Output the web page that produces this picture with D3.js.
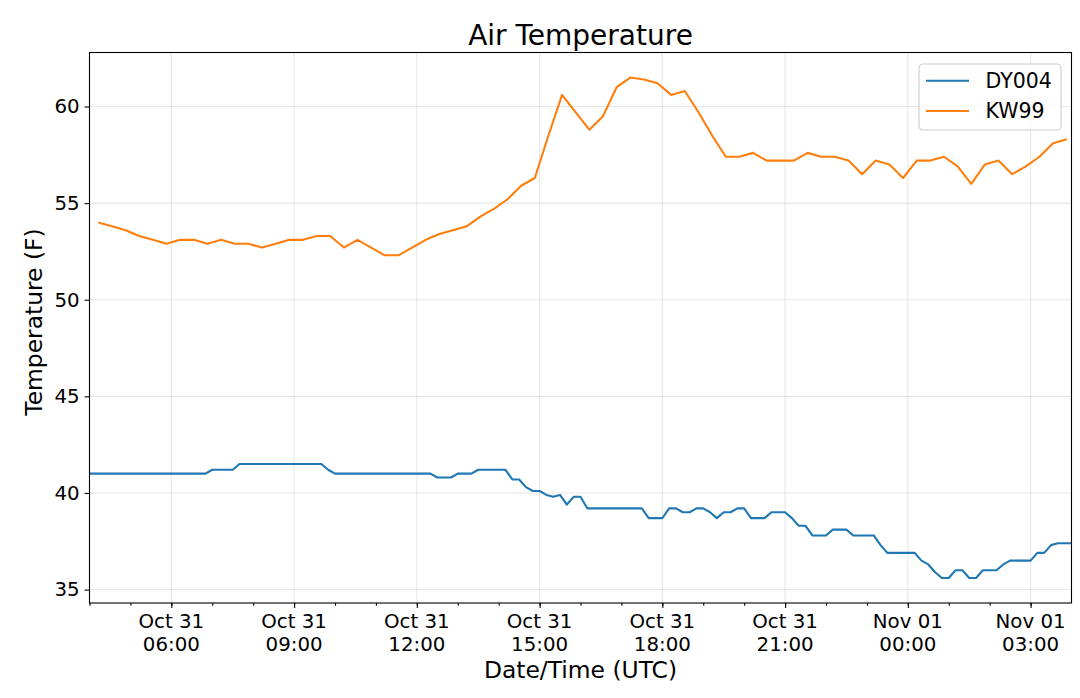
<!DOCTYPE html>
<html>
<head>
<meta charset="utf-8">
<script src="https://cdn.jsdelivr.net/npm/d3@7"></script>
<style>
body { margin: 0; background: #fff; }
text { font-family: "DejaVu Sans", sans-serif; fill: #000; }
</style>
</head>
<body>
<div id="chart"></div>
<script>
var seriesNames = ["DY004", "KW99"];
var seriesColors = ["#1f77b4", "#ff7f0e"];

// DY004: 10 minute readings
var dy004Start = "2019-10-31T04:00:00Z", dy004StepMin = 10;
var dy004Temp = [
    41.0, 41.0, 41.0, 41.0, 41.0, 41.0, 41.0, 41.0, 41.0, 41.0,
    41.0, 41.0, 41.0, 41.0, 41.0, 41.0, 41.0, 41.0, 41.2, 41.2,
    41.2, 41.2, 41.5, 41.5, 41.5, 41.5, 41.5, 41.5, 41.5, 41.5,
    41.5, 41.5, 41.5, 41.5, 41.5, 41.2, 41.0, 41.0, 41.0, 41.0,
    41.0, 41.0, 41.0, 41.0, 41.0, 41.0, 41.0, 41.0, 41.0, 41.0,
    41.0, 40.8, 40.8, 40.8, 41.0, 41.0, 41.0, 41.2, 41.2, 41.2,
    41.2, 41.2, 40.7, 40.7, 40.3, 40.1, 40.1, 39.9, 39.8, 39.9,
    39.4, 39.8, 39.8, 39.2, 39.2, 39.2, 39.2, 39.2, 39.2, 39.2,
    39.2, 39.2, 38.7, 38.7, 38.7, 39.2, 39.2, 39.0, 39.0, 39.2,
    39.2, 39.0, 38.7, 39.0, 39.0, 39.2, 39.2, 38.7, 38.7, 38.7,
    39.0, 39.0, 39.0, 38.7, 38.3, 38.3, 37.8, 37.8, 37.8, 38.1,
    38.1, 38.1, 37.8, 37.8, 37.8, 37.8, 37.3, 36.9, 36.9, 36.9,
    36.9, 36.9, 36.5, 36.3, 35.9, 35.6, 35.6, 36.0, 36.0, 35.6,
    35.6, 36.0, 36.0, 36.0, 36.3, 36.5, 36.5, 36.5, 36.5, 36.9,
    36.9, 37.3, 37.4, 37.4, 37.4
];

// KW99: 20 minute readings
var kw99Start = "2019-10-31T04:13:00Z", kw99StepMin = 20;
var kw99Temp = [
    54.0, 53.8, 53.6, 53.3, 53.1, 52.9, 53.1, 53.1, 52.9, 53.1,
    52.9, 52.9, 52.7, 52.9, 53.1, 53.1, 53.3, 53.3, 52.7, 53.1,
    52.7, 52.3, 52.3, 52.7, 53.1, 53.4, 53.6, 53.8, 54.3, 54.7,
    55.2, 55.9, 56.3, 58.5, 60.6, 59.7, 58.8, 59.5, 61.0, 61.5,
    61.4, 61.2, 60.6, 60.8, 59.7, 58.5, 57.4, 57.4, 57.6, 57.2,
    57.2, 57.2, 57.6, 57.4, 57.4, 57.2, 56.5, 57.2, 57.0, 56.3,
    57.2, 57.2, 57.4, 56.9, 56.0, 57.0, 57.2, 56.5, 56.9, 57.4,
    58.1, 58.3
];

var xTicks = ["2019-10-31T06:00:00Z", "2019-10-31T09:00:00Z", "2019-10-31T12:00:00Z",
              "2019-10-31T15:00:00Z", "2019-10-31T18:00:00Z", "2019-10-31T21:00:00Z",
              "2019-11-01T00:00:00Z", "2019-11-01T03:00:00Z"];
var yTicks = [35, 40, 45, 50, 55, 60];

function toSeries(start, stepMin, values) {
    var t0 = new Date(start);
    return values.map(function(v, i) {
        return {time: d3.utcMinute.offset(t0, i * stepMin), temp: v};
    });
}

var series = [
    {name: seriesNames[0], color: seriesColors[0], values: toSeries(dy004Start, dy004StepMin, dy004Temp)},
    {name: seriesNames[1], color: seriesColors[1], values: toSeries(kw99Start, kw99StepMin, kw99Temp)}
];

var margin = {top: 52.5, right: 8.5, bottom: 95, left: 89.5},
    width = 1080 - margin.left - margin.right,
    height = 698 - margin.top - margin.bottom;

var svg = d3.select("#chart").append("svg")
    .attr("width", 1080)
    .attr("height", 698);

var g = svg.append("g")
    .attr("transform", "translate(" + margin.left + "," + margin.top + ")");

// x spans the DY004 record, y gets matplotlib's 5% padding
var x = d3.scaleUtc()
    .domain(d3.extent(series[0].values, d => d.time))
    .range([0, width]);

var allTemps = dy004Temp.concat(kw99Temp);
var lo = d3.min(allTemps), hi = d3.max(allTemps), pad = (hi - lo) * 0.05;
var y = d3.scaleLinear()
    .domain([lo - pad, hi + pad])
    .range([height, 0]);

var tickDates = xTicks.map(d => new Date(d));

// grid
g.append("g").selectAll("line")
    .data(tickDates)
    .enter().append("line")
    .attr("x1", d => x(d)).attr("x2", d => x(d))
    .attr("y1", 0).attr("y2", height)
    .attr("stroke", "#b0b0b0").attr("stroke-opacity", 0.3).attr("stroke-width", 1.1);

g.append("g").selectAll("line")
    .data(yTicks)
    .enter().append("line")
    .attr("x1", 0).attr("x2", width)
    .attr("y1", d => y(d)).attr("y2", d => y(d))
    .attr("stroke", "#b0b0b0").attr("stroke-opacity", 0.3).attr("stroke-width", 1.1);

// lines
var line = d3.line()
    .x(d => x(d.time))
    .y(d => y(d.temp));

g.selectAll(".series")
    .data(series)
    .enter().append("path")
    .attr("class", "series")
    .attr("d", d => line(d.values))
    .attr("fill", "none")
    .attr("stroke", d => d.color)
    .attr("stroke-width", 2.1)
    .attr("stroke-linejoin", "round");

// axes
var minorAxis = d3.axisBottom(x)
    .tickValues(d3.utcHour.range(x.domain()[0], x.domain()[1]))
    .tickSize(2.8).tickFormat("");
var xAxis = d3.axisBottom(x)
    .tickValues(tickDates)
    .tickSize(4.9).tickFormat("");
var yAxis = d3.axisLeft(y)
    .tickValues(yTicks)
    .tickSize(4.9).tickPadding(4.9)
    .tickFormat(d3.format("d"));

g.append("g").attr("transform", "translate(0," + height + ")").call(minorAxis);
g.append("g").attr("transform", "translate(0," + height + ")").call(xAxis);
g.append("g").call(yAxis);

g.selectAll(".domain").remove();
g.selectAll(".tick line").attr("stroke", "#000").attr("stroke-width", 1.1);
g.selectAll(".tick text")
    .style("font-family", "DejaVu Sans")
    .style("font-size", "19.8px")
    .attr("fill", "#000");

// two-line date labels
var fmtDay = d3.utcFormat("%b %d"), fmtHour = d3.utcFormat("%H:%M");
var xLabels = g.append("g").selectAll("text")
    .data(tickDates)
    .enter().append("text")
    .attr("text-anchor", "middle")
    .style("font-size", "19.8px")
    .attr("transform", d => "translate(" + x(d) + "," + (height + 24.5) + ")");
xLabels.append("tspan").attr("x", 0).attr("y", 0).text(d => fmtDay(d));
xLabels.append("tspan").attr("x", 0).attr("y", 23.8).text(d => fmtHour(d));

// frame
g.append("rect")
    .attr("width", width).attr("height", height)
    .attr("fill", "none").attr("stroke", "#000").attr("stroke-width", 1.1);

// titles
svg.append("text")
    .attr("x", margin.left + width / 2).attr("y", 45)
    .attr("text-anchor", "middle")
    .style("font-size", "28px")
    .text("Air Temperature");

svg.append("text")
    .attr("x", margin.left + width / 2).attr("y", 677.5)
    .attr("text-anchor", "middle")
    .style("font-size", "23.4px")
    .text("Date/Time (UTC)");

svg.append("text")
    .attr("transform", "translate(42,322) rotate(-90)")
    .attr("text-anchor", "middle")
    .style("font-size", "23.4px")
    .text("Temperature (F)");

// legend
var legend = g.append("g")
    .attr("transform", "translate(" + (width - 152.5) + ",11.5)");

legend.append("rect")
    .attr("width", 142).attr("height", 66)
    .attr("rx", 4).attr("ry", 4)
    .attr("fill", "#fff").attr("fill-opacity", 0.8)
    .attr("stroke", "#cccccc").attr("stroke-width", 1.1);

var items = legend.selectAll(".item")
    .data(series)
    .enter().append("g")
    .attr("class", "item")
    .attr("transform", (d, i) => "translate(0," + (16.7 + i * 30.3) + ")");

items.append("line")
    .attr("x1", 7).attr("x2", 50)
    .attr("stroke", d => d.color).attr("stroke-width", 2.1);

items.append("text")
    .attr("x", 66.5).attr("y", 7.2)
    .style("font-size", "20.5px")
    .text(d => d.name);
</script>
</body>
</html>
